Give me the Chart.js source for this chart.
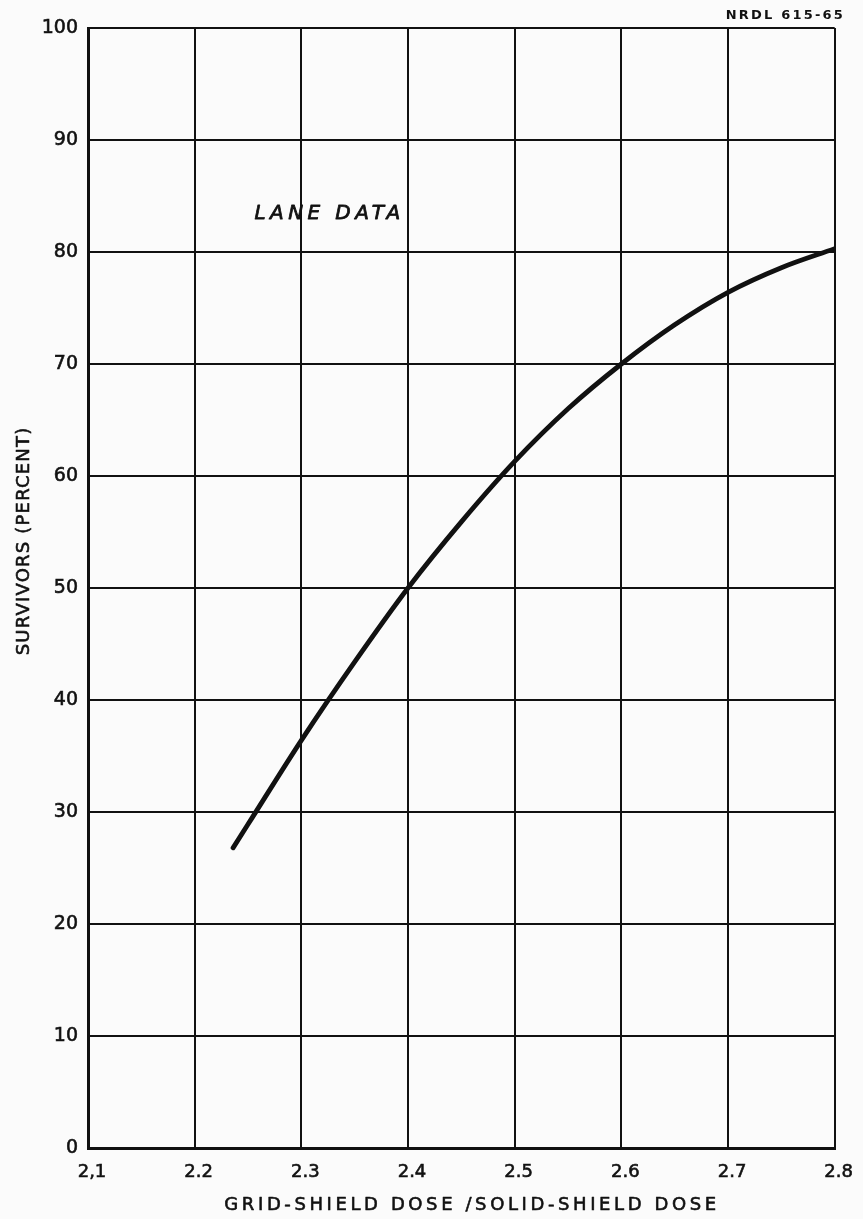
<!DOCTYPE html>
<html>
<head>
<meta charset="utf-8">
<script src="https://cdn.jsdelivr.net/npm/chart.js@4/dist/chart.umd.min.js"></script>
<style>
  html, body { margin: 0; padding: 0; background: #fbfbfb; }
  #wrap { width: 863px; height: 1219px; position: relative; }
</style>
</head>
<body>
<div id="wrap"><canvas id="c" width="863" height="1219"></canvas></div>
<script>
// Dose ratio (grid-shield / solid-shield) and percent survivors along the curve
const doseRatio = [2.236, 2.25, 2.30, 2.35, 2.40, 2.45, 2.50, 2.55, 2.60, 2.65, 2.70, 2.75, 2.80];
const survivors = [26.8, 28.9, 36.4, 43.4, 50.0, 55.9, 61.3, 66.0, 70.0, 73.5, 76.4, 78.6, 80.3];

// Axis tick labels
const xTickValues = [2.1, 2.2, 2.3, 2.4, 2.5, 2.6, 2.7, 2.8];
const xTickLabels = ['2,1', '2.2', '2.3', '2.4', '2.5', '2.6', '2.7', '2.8'];
const yTickValues = [0, 10, 20, 30, 40, 50, 60, 70, 80, 90, 100];
const yTickLabels = ['0', '10', '20', '30', '40', '50', '60', '70', '80', '90', '100'];

// Texts
const xTitle = 'GRID-SHIELD DOSE /SOLID-SHIELD DOSE';
const yTitle = 'SURVIVORS (PERCENT)';
const curveLabel = 'LANE DATA';
const figureId = 'NRDL 615-65';

const INK = '#111111';
const FONT = '"DejaVu Sans", sans-serif';

const points = doseRatio.map((x, i) => ({ x, y: survivors[i] }));

// Draws a lettered string with a light outline so the strokes read heavier
function letter(ctx, text, x, y, font, spacing, align, stroke) {
  ctx.font = font;
  ctx.letterSpacing = spacing + 'px';
  ctx.textAlign = align;
  ctx.textBaseline = 'middle';
  ctx.fillText(text, x, y);
  if (stroke) {
    ctx.lineWidth = stroke;
    ctx.strokeText(text, x, y);
  }
}

// Titles and annotations drawn with letter spacing, like hand lettering
const lettering = {
  id: 'lettering',
  afterDraw(chart) {
    const ctx = chart.ctx;
    const xs = chart.scales.x, ys = chart.scales.y;
    ctx.save();
    ctx.fillStyle = INK;
    ctx.strokeStyle = INK;
    ctx.lineJoin = 'round';

    // x-axis title
    letter(ctx, xTitle, 472, 1205, '18px ' + FONT, 3.6, 'center', 0.6);

    // y-axis title (rotated)
    ctx.save();
    ctx.translate(24, ys.getPixelForValue(54.2));
    ctx.rotate(-Math.PI / 2);
    letter(ctx, yTitle, 0, 0, '18px ' + FONT, 1.2, 'center', 0.6);
    ctx.restore();

    // curve label inside the plot
    letter(ctx, curveLabel, xs.getPixelForValue(2.3265), ys.getPixelForValue(83.4),
           'italic 20px ' + FONT, 4.4, 'center', 0.8);

    // figure number, top right
    letter(ctx, figureId, 845, 16, 'bold 13px ' + FONT, 2.2, 'right', 0);
    ctx.restore();
  }
};

new Chart(document.getElementById('c'), {
  type: 'scatter',
  data: {
    datasets: [{
      data: points,
      showLine: true,
      borderColor: INK,
      borderWidth: 4.8,
      borderCapStyle: 'round',
      pointRadius: 0,
      cubicInterpolationMode: 'monotone',
      fill: false
    }]
  },
  options: {
    responsive: false,
    animation: false,
    events: [],
    layout: { padding: { left: 0, top: 28, right: 27, bottom: 0 } },
    plugins: { legend: { display: false }, tooltip: { enabled: false } },
    scales: {
      x: {
        type: 'linear',
        min: 2.1,
        max: 2.8,
        afterBuildTicks(scale) { scale.ticks = xTickValues.map(v => ({ value: v })); },
        afterFit(scale) { scale.height = 71; },
        ticks: {
          color: INK,
          font: { family: FONT, size: 18 },
          textStrokeColor: INK,
          textStrokeWidth: 0.6,
          padding: 14,
          labelOffset: 4,
          maxRotation: 0,
          autoSkip: false,
          callback(value) {
            const i = xTickValues.findIndex(v => Math.abs(v - value) < 1e-6);
            return i >= 0 ? xTickLabels[i] : '';
          }
        },
        grid: { color: INK, lineWidth: 2, drawTicks: false },
        border: { display: true, color: INK, width: 3 }
      },
      y: {
        type: 'linear',
        min: 0,
        max: 100,
        afterBuildTicks(scale) { scale.ticks = yTickValues.map(v => ({ value: v })); },
        afterFit(scale) { scale.width = 88; },
        ticks: {
          color: INK,
          font: { family: FONT, size: 19 },
          textStrokeColor: INK,
          textStrokeWidth: 0.6,
          padding: 10,
          autoSkip: false,
          callback(value) {
            const i = yTickValues.indexOf(value);
            return i >= 0 ? yTickLabels[i] : '';
          }
        },
        grid: { color: INK, lineWidth: 2, drawTicks: false },
        border: { display: true, color: INK, width: 3 }
      }
    }
  },
  plugins: [lettering]
});
</script>
</body>
</html>
